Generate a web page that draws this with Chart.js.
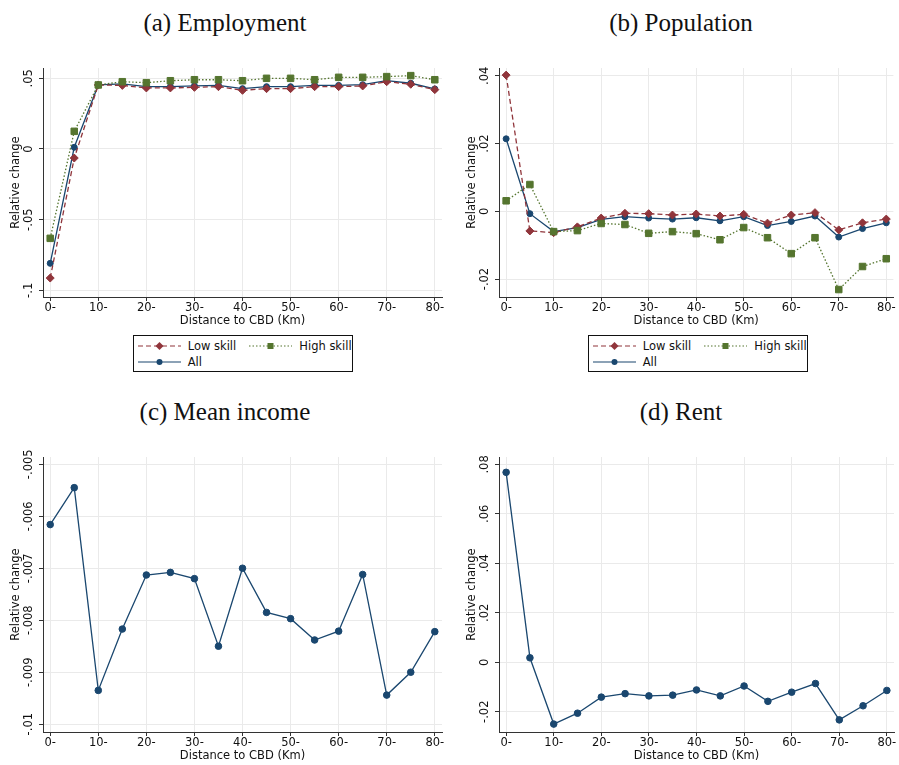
<!DOCTYPE html>
<html>
<head>
<meta charset="utf-8">
<script src="https://cdn.jsdelivr.net/npm/chart.js@4.4.1/dist/chart.umd.min.js"></script>
<style>
  body { margin: 0; background: #fff; width: 899px; height: 765px; position: relative; overflow: hidden; }
  .box { position: absolute; }
  .ttl { position: absolute; width: 300px; text-align: center; font: 25px "Liberation Serif", serif; line-height: 30px; color: #111; }
  .lg { position: absolute; border: 1px solid #111; box-sizing: border-box; width: 220px; height: 37px; font: 11.5px "DejaVu Sans", sans-serif; color: #111; }
  .lg .it { position: absolute; display: flex; align-items: center; height: 12px; }
  .lg .it span { margin-left: 7px; line-height: 12px; white-space: nowrap; }
</style>
</head>
<body>
<div class="ttl" style="left:75px;top:8px">(a) Employment</div>
<div class="ttl" style="left:531px;top:8px">(b) Population</div>
<div class="ttl" style="left:75px;top:397px">(c) Mean income</div>
<div class="ttl" style="left:531px;top:397px">(d) Rent</div>

<div class="box" style="left:0;top:60px;width:450px;height:270px"><canvas id="empChart"></canvas></div>
<div class="box" style="left:456px;top:60px;width:443px;height:270px"><canvas id="popChart"></canvas></div>
<div class="box" style="left:0;top:445px;width:450px;height:320px"><canvas id="incomeChart"></canvas></div>
<div class="box" style="left:456px;top:445px;width:443px;height:320px"><canvas id="rentChart"></canvas></div>

<div class="lg" id="empLegend" style="left:133px;top:335px"></div>
<div class="lg" id="popLegend" style="left:588px;top:335px"></div>

<script>
// distance bands (km) and axis ticks
const distanceKm = [0, 5, 10, 15, 20, 25, 30, 35, 40, 45, 50, 55, 60, 65, 70, 75, 80];
const xTicks = [0, 10, 20, 30, 40, 50, 60, 70, 80];
const xTickLabels = ['0-', '10-', '20-', '30-', '40-', '50-', '60-', '70-', '80-'];
const seriesNames = ['Low skill', 'High skill', 'All'];

// (a) Employment
const empLow  = [-0.0913, -0.0064, 0.0453, 0.0450, 0.0432, 0.0432, 0.0436, 0.0441, 0.0415, 0.0427, 0.0427, 0.0441, 0.0441, 0.0446, 0.0476, 0.0458, 0.0420];
const empHigh = [-0.0632, 0.0125, 0.0453, 0.0476, 0.0469, 0.0483, 0.0490, 0.0490, 0.0483, 0.0500, 0.0500, 0.0490, 0.0507, 0.0507, 0.0512, 0.0519, 0.0490];
const empAll  = [-0.0809, 0.0012, 0.0453, 0.0460, 0.0441, 0.0441, 0.0446, 0.0450, 0.0427, 0.0441, 0.0441, 0.0450, 0.0450, 0.0455, 0.0483, 0.0465, 0.0425];
const empTicks = [-0.1, -0.05, 0, 0.05];
const empTickLabels = ['-.1', '-.05', '0', '.05'];

// (b) Population
const popLow  = [0.0402, -0.0058, -0.0063, -0.0046, -0.0020, -0.0006, -0.0007, -0.0011, -0.0008, -0.0014, -0.0009, -0.0035, -0.0011, -0.0004, -0.0055, -0.0034, -0.0023];
const popHigh = [0.0031, 0.0079, -0.0060, -0.0057, -0.0036, -0.0039, -0.0065, -0.0060, -0.0066, -0.0084, -0.0048, -0.0078, -0.0125, -0.0078, -0.0231, -0.0163, -0.0140];
const popAll  = [0.0214, -0.0007, -0.0060, -0.0048, -0.0024, -0.0016, -0.0020, -0.0023, -0.0019, -0.0028, -0.0016, -0.0042, -0.0030, -0.0014, -0.0076, -0.0051, -0.0034];
const popTicks = [-0.02, 0, 0.02, 0.04];
const popTickLabels = ['-.02', '0', '.02', '.04'];

// (c) Mean income
const incomeAll = [-0.00616, -0.00545, -0.00935, -0.00817, -0.00713, -0.00708, -0.00720, -0.00850, -0.00700, -0.00785, -0.00797, -0.00838, -0.00821, -0.00712, -0.00944, -0.00900, -0.00822];
const incomeTicks = [-0.01, -0.009, -0.008, -0.007, -0.006, -0.005];
const incomeTickLabels = ['-.01', '-.009', '-.008', '-.007', '-.006', '-.005'];

// (d) Rent
const rentAll = [0.0768, 0.0018, -0.0250, -0.0206, -0.0141, -0.0127, -0.0136, -0.0133, -0.0112, -0.0136, -0.0096, -0.0158, -0.0121, -0.0086, -0.0233, -0.0176, -0.0114];
const rentTicks = [-0.02, 0, 0.02, 0.04, 0.06, 0.08];
const rentTickLabels = ['-.02', '0', '.02', '.04', '.06', '.08'];

const NAVY = '#1A476F', MAROON = '#90353B', GREEN = '#55752F';
const GRID = '#EAEAEA', AXIS = '#333', TEXT = '#111';

Chart.defaults.font.family = '"DejaVu Sans", sans-serif';
Chart.defaults.font.size = 11.5;
Chart.defaults.color = TEXT;

// series look: line dash + marker (order 0 is drawn on top)
const looks = {
  'Low skill':  { color: MAROON, dash: [5, 3],   svgDash: '5 3',   marker: 'rectRot', radius: 4,   order: 1 },
  'High skill': { color: GREEN,  dash: [1.5, 2], svgDash: '1.5 2', marker: 'rect',    radius: 4.6, order: 0 },
  'All':        { color: NAVY,   dash: [],       svgDash: '',      marker: 'circle',  radius: 3,   order: 2 }
};

function series(name, values, radius) {
  const lk = looks[name];
  return {
    label: name,
    data: distanceKm.map((x, i) => ({ x: x, y: values[i] })),
    borderColor: lk.color,
    backgroundColor: lk.color,
    borderWidth: 1.3,
    borderDash: lk.dash,
    pointStyle: lk.marker,
    pointRadius: radius || lk.radius,
    pointBorderWidth: 1,
    tension: 0,
    order: lk.order,
    clip: false
  };
}

// y tick labels are rotated like the original, drawn at the scale's tick pixels
function yTickText(labels) {
  return {
    id: 'yTickText',
    afterDraw(chart) {
      const s = chart.scales.y, ctx = chart.ctx;
      ctx.save();
      ctx.font = '11.5px "DejaVu Sans"';
      ctx.fillStyle = TEXT;
      ctx.textAlign = 'center';
      ctx.textBaseline = 'middle';
      s.ticks.forEach((t, i) => {
        ctx.save();
        ctx.translate(s.right - 14, s.getPixelForValue(t.value));
        ctx.rotate(-Math.PI / 2);
        ctx.fillText(labels[i], 0, 0);
        ctx.restore();
      });
      ctx.restore();
    }
  };
}

function panel(id, datasets, yTicks, yLabels, yMin, yMax, pad) {
  return new Chart(document.getElementById(id), {
    type: 'line',
    data: { datasets: datasets },
    options: {
      responsive: true,
      maintainAspectRatio: false,
      animation: false,
      layout: { padding: pad },
      plugins: { legend: { display: false }, tooltip: { enabled: false } },
      scales: {
        x: {
          type: 'linear', min: -1.5, max: 81.5,
          afterBuildTicks: s => { s.ticks = xTicks.map(v => ({ value: v })); },
          afterFit: s => { s.height = 30.6; },
          ticks: { callback: (v, i) => xTickLabels[i], padding: 0.4, maxRotation: 0, autoSkip: false },
          grid: { color: GRID, lineWidth: 1, tickColor: AXIS, tickLength: 4 },
          border: { color: AXIS, width: 1 },
          title: { display: true, text: 'Distance to CBD (Km)', padding: 0 }
        },
        y: {
          min: yMin, max: yMax,
          afterBuildTicks: s => { s.ticks = yTicks.map(v => ({ value: v })); },
          afterFit: s => { s.width = 43; },
          ticks: { display: false },
          grid: { color: GRID, lineWidth: 1, tickColor: AXIS, tickLength: 4 },
          border: { color: AXIS, width: 1 },
          title: { display: true, text: 'Relative change', padding: { top: 9.1, bottom: 0 } }
        }
      }
    },
    plugins: [yTickText(yLabels)]
  });
}

const topPad = { top: 8, bottom: 2.4, left: 0 };
const botPad = { top: 12, bottom: 2.4, left: 0 };

panel('empChart',
  [series('Low skill', empLow), series('High skill', empHigh), series('All', empAll)],
  empTicks, empTickLabels, -0.1047, 0.0573, Object.assign({ right: 8 }, topPad));

panel('popChart',
  [series('Low skill', popLow), series('High skill', popHigh), series('All', popAll)],
  popTicks, popTickLabels, -0.0253, 0.0423, Object.assign({ right: 2 }, topPad));

panel('incomeChart', [series('All', incomeAll, 3.3)],
  incomeTicks, incomeTickLabels, -0.01015, -0.00486, Object.assign({ right: 8 }, botPad));

panel('rentChart', [series('All', rentAll, 3.3)],
  rentTicks, rentTickLabels, -0.0282, 0.083, Object.assign({ right: 2 }, botPad));

// Stata style legend box: two columns, "All" on the second row
function swatch(name) {
  const lk = looks[name];
  let mk;
  if (lk.marker === 'rectRot') mk = '<polygon points="21.5,2 25.5,6 21.5,10 17.5,6" fill="' + lk.color + '"/>';
  else if (lk.marker === 'rect') mk = '<rect x="18.5" y="3" width="6" height="6" fill="' + lk.color + '"/>';
  else mk = '<circle cx="21.5" cy="6" r="3" fill="' + lk.color + '"/>';
  return '<svg width="43" height="12"><line x1="0" y1="6" x2="43" y2="6" stroke="' + lk.color +
    '" stroke-width="1.1"' + (lk.svgDash ? ' stroke-dasharray="' + lk.svgDash + '"' : '') + '/>' + mk + '</svg>';
}

function buildLegend(id) {
  const slots = [[3.7, 3.7], [115.3, 3.7], [3.7, 19.7]];
  const el = document.getElementById(id);
  seriesNames.forEach((name, i) => {
    const it = document.createElement('div');
    it.className = 'it';
    it.style.left = slots[i][0] + 'px';
    it.style.top = slots[i][1] + 'px';
    it.innerHTML = swatch(name) + '<span>' + name + '</span>';
    el.appendChild(it);
  });
}
buildLegend('empLegend');
buildLegend('popLegend');
</script>
</body>
</html>
